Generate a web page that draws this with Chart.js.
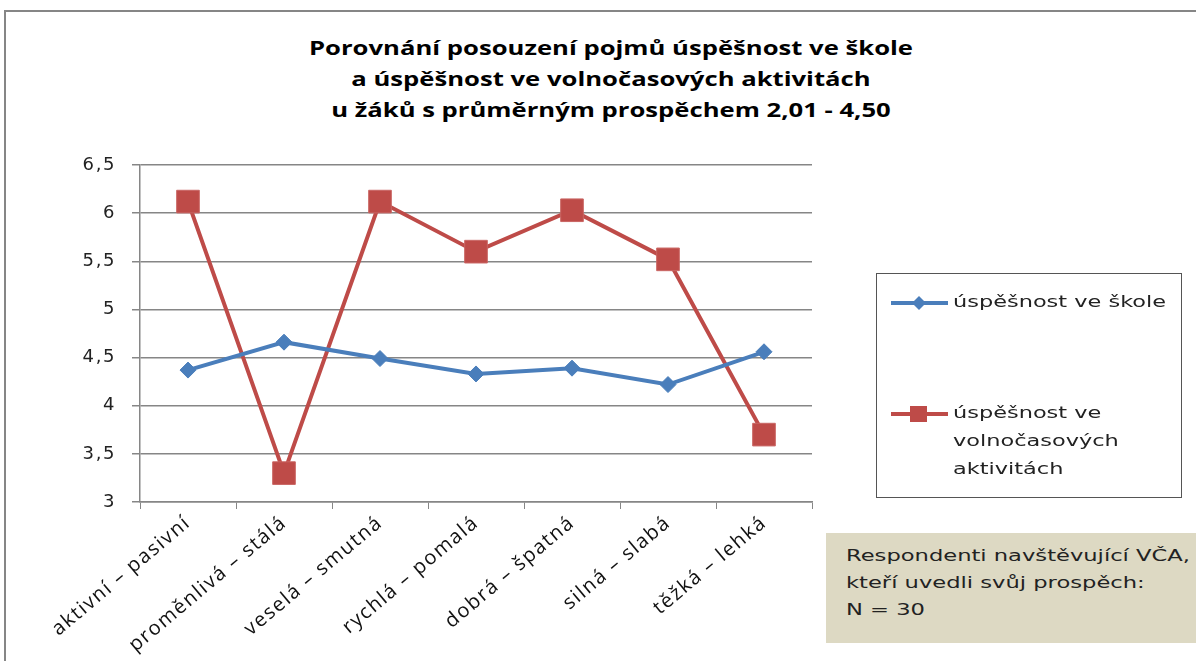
<!DOCTYPE html>
<html>
<head>
<meta charset="utf-8">
<script src="https://cdn.jsdelivr.net/npm/chart.js@4"></script>
<style>
  html, body { margin:0; padding:0; background:#fff; }
  #wrap { position:relative; width:1196px; height:661px; overflow:hidden; }
  #frame { position:absolute; left:4px; top:10px; width:1300px; height:700px; border:2px solid #868686; box-sizing:border-box; }
  #title { position:absolute; left:0; width:1222px; top:33px; text-align:center; font-family:"Open Sans", sans-serif; font-weight:bold; font-size:19px; line-height:31px; color:#000; transform:scaleX(1.35); transform-origin:611px 0; }
  #legendBox { position:absolute; left:876px; top:273px; width:306px; height:225px; border:1.5px solid #555; box-sizing:border-box; }
  #noteBg { position:absolute; left:826px; top:533px; width:380px; height:110px; background:#DDD9C3; }
  #note { position:absolute; left:846px; top:542px; white-space:nowrap; font-family:"DejaVu Sans", sans-serif; font-size:16.5px; line-height:27px; color:#222; transform:scaleX(1.37); transform-origin:0 0; }
  canvas { position:absolute; left:0; top:0; }
</style>
</head>
<body>
<div id="wrap">
  <div id="frame"></div>
  <div id="title">Porovnání posouzení pojmů úspěšnost ve škole<br>a úspěšnost ve volnočasových aktivitách<br>u žáků s průměrným prospěchem 2,01 - 4,50</div>
  <div id="legendBox"></div>
  <canvas id="chart" width="1196" height="661"></canvas>
  <div id="noteBg"></div>
  <div id="note">Respondenti navštěvující VČA,<br>kteří uvedli svůj prospěch:<br>N = 30</div>
</div>
<script>
const categories = ['aktivní – pasivní', 'proměnlivá – stálá', 'veselá – smutná', 'rychlá – pomalá', 'dobrá – špatná', 'silná – slabá', 'těžká – lehká'];
const skola = [4.37, 4.66, 4.49, 4.33, 4.39, 4.22, 4.56];
const volnocas = [6.12, 3.30, 6.12, 5.60, 6.03, 5.52, 3.70];
const seriesNames = ['úspěšnost ve škole', ['úspěšnost ve', 'volnočasových', 'aktivitách']];

const BLUE = '#4A7EBB';
const RED = '#BE4B48';

// the source picture is stretched sideways, so widen the axis text a bit
const spacingPlugin = {
  id: 'wideText',
  beforeDraw(chart) { chart.ctx.letterSpacing = '1.6px'; },
  afterDraw(chart) { chart.ctx.letterSpacing = '0px'; }
};

// legend drawn on the canvas inside the bordered box
const legendPlugin = {
  id: 'boxLegend',
  afterDraw(chart) {
    const ctx = chart.ctx;
    const items = [
      { ds: chart.data.datasets[0], y: 303, lines: [seriesNames[0]] },
      { ds: chart.data.datasets[1], y: 414, lines: seriesNames[1] }
    ];
    ctx.save();
    ctx.letterSpacing = '0px';
    items.forEach(it => {
      ctx.strokeStyle = it.ds.borderColor;
      ctx.lineWidth = 4;
      ctx.beginPath();
      ctx.moveTo(891, it.y);
      ctx.lineTo(948, it.y);
      ctx.stroke();
      ctx.fillStyle = it.ds.pointBackgroundColor;
      if (it.ds.pointStyle === 'rect') {
        ctx.fillRect(910, it.y - 8, 17, 16);
      } else {
        ctx.beginPath();
        ctx.moveTo(919, it.y - 7); ctx.lineTo(926, it.y); ctx.lineTo(919, it.y + 7); ctx.lineTo(912, it.y);
        ctx.closePath(); ctx.fill();
      }
      ctx.fillStyle = '#222';
      ctx.font = '16.5px "DejaVu Sans"';
      ctx.textBaseline = 'middle';
      it.lines.forEach((t, i) => {
        ctx.save();
        ctx.translate(953, it.y + i * 28);
        ctx.scale(1.36, 1);
        ctx.fillText(t, 0, 0);
        ctx.restore();
      });
    });
    ctx.restore();
  }
};

new Chart(document.getElementById('chart'), {
  type: 'line',
  data: {
    labels: categories,
    datasets: [
      {
        label: 'úspěšnost ve škole',
        data: skola,
        borderColor: BLUE,
        backgroundColor: BLUE,
        pointBackgroundColor: BLUE,
        pointBorderColor: BLUE,
        borderWidth: 4,
        pointStyle: 'rectRot',
        pointRadius: 8,
        pointBorderWidth: 1,
        tension: 0
      },
      {
        label: 'úspěšnost ve volnočasových aktivitách',
        data: volnocas,
        borderColor: RED,
        backgroundColor: RED,
        pointBackgroundColor: RED,
        pointBorderColor: '#C96563',
        borderWidth: 4,
        pointStyle: 'rect',
        pointRadius: 16,
        pointBorderWidth: 1,
        tension: 0
      }
    ]
  },
  options: {
    responsive: false,
    animation: false,
    layout: { padding: { left: 0, right: 384, top: 165, bottom: 0 } },
    plugins: { legend: { display: false }, title: { display: false }, tooltip: { enabled: false } },
    scales: {
      x: {
        offset: true,
        grid: { display: true, drawOnChartArea: false, drawTicks: true, tickLength: 7, offset: true, color: '#868686' },
        border: { display: true, color: '#868686', width: 1.5 },
        ticks: { minRotation: 40, maxRotation: 40, autoSkip: false, color: '#111', padding: 2, font: { family: '"Open Sans"', size: 20 } },
        afterFit(scale) { scale.height = 159; }
      },
      y: {
        min: 3,
        max: 6.5,
        grid: { color: '#868686', lineWidth: 1.5, tickLength: 8 },
        border: { display: true, color: '#868686', width: 1.5 },
        ticks: {
          stepSize: 0.5,
          color: '#222',
          padding: 16,
          font: { family: '"DejaVu Sans"', size: 18 },
          callback: v => String(v).replace('.', ',')
        },
        afterFit(scale) { scale.width = 140; }
      }
    }
  },
  plugins: [spacingPlugin, legendPlugin]
});
</script>
</body>
</html>
